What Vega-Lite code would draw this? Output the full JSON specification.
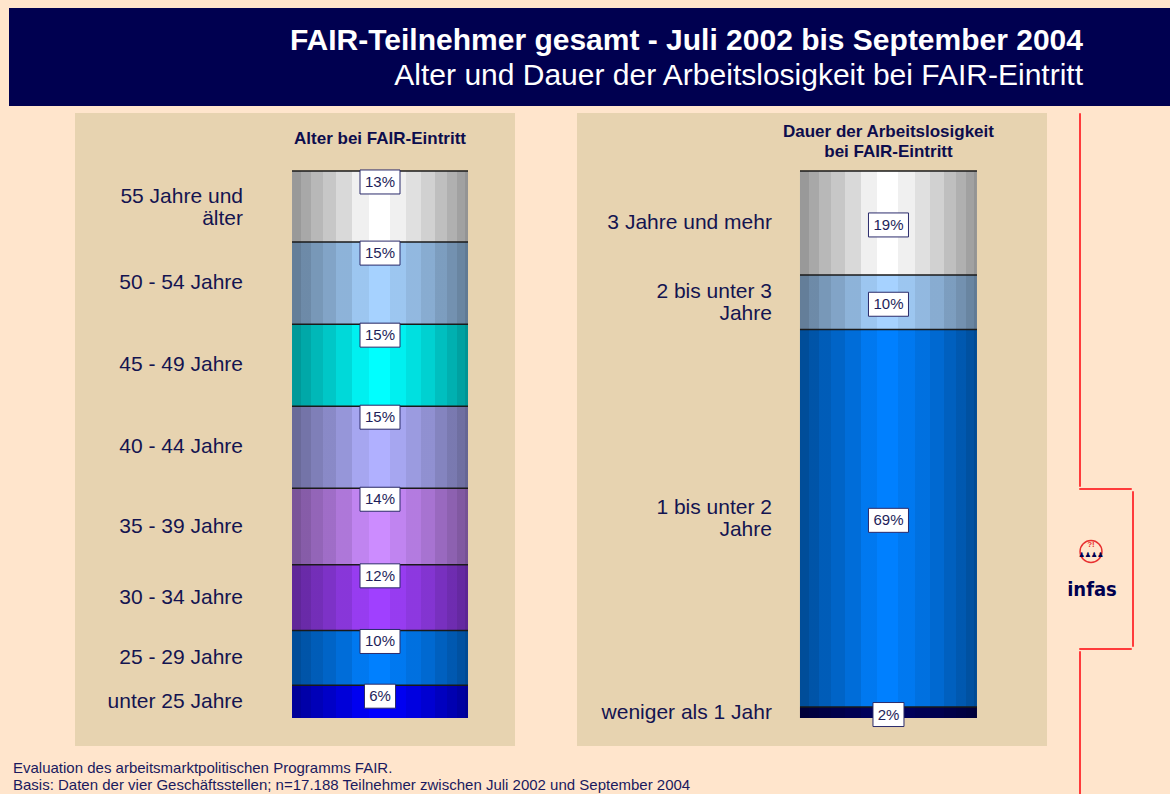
{
  "$schema": "https://vega.github.io/schema/vega-lite/v6.json",
  "background": "#FFE5CC",
  "padding": {"left": 9, "top": 8, "right": 0, "bottom": 0},
  "config": {"font": "Liberation Sans", "view": {"stroke": null}},
  "spacing": 6,
  "vconcat": [
    {
      "width": 1161,
      "height": 98,
      "view": {"fill": "#000050", "stroke": null},
      "data": {"values": [{"title": "FAIR-Teilnehmer gesamt - Juli 2002 bis September 2004", "subtitle": "Alter und Dauer der Arbeitslosigkeit bei FAIR-Eintritt"}]},
      "layer": [
        {"mark": {"type": "text", "align": "right", "baseline": "alphabetic", "dx": 493.5, "dy": -7, "fontSize": 30, "fontWeight": "bold", "color": "#FFFFFF"}, "encoding": {"text": {"field": "title"}}},
        {"mark": {"type": "text", "align": "right", "baseline": "alphabetic", "dx": 493.5, "dy": 28, "fontSize": 30, "fontWeight": "normal", "color": "#FFFFFF"}, "encoding": {"text": {"field": "subtitle"}}}
      ]
    },
    {
      "spacing": 20,
      "hconcat": [
        {
          "title": {
            "text": ["Evaluation des arbeitsmarktpolitischen Programms FAIR.", "Basis: Daten der vier Geschäftsstellen; n=17.188 Teilnehmer zwischen Juli 2002 und September 2004"],
            "orient": "bottom", "anchor": "start", "offset": 15, "dx": 4,
            "fontSize": 15, "fontWeight": "normal", "color": "#1A1A5E", "lineHeight": 17
          },
          "spacing": 62,
          "resolve": {"scale": {"color": "independent", "x": "independent", "y": "independent"}},
          "hconcat": [
            {"width": 4, "height": 633, "data": {"values": [{}]}, "mark": {"type": "point", "size": 0, "opacity": 0}, "encoding": {}},
            {
              "width": 440,
              "height": 633,
              "view": {"fill": "#E7D3B0", "stroke": null},
              "layer": [
                {
                  "data": {"values": [
                    {"panel": "Alter", "rank": 1, "label": "unter 25 Jahre", "share": 0.06},
                    {"panel": "Alter", "rank": 2, "label": "25 - 29 Jahre", "share": 0.10},
                    {"panel": "Alter", "rank": 3, "label": "30 - 34 Jahre", "share": 0.12},
                    {"panel": "Alter", "rank": 4, "label": "35 - 39 Jahre", "share": 0.14},
                    {"panel": "Alter", "rank": 5, "label": "40 - 44 Jahre", "share": 0.15},
                    {"panel": "Alter", "rank": 6, "label": "45 - 49 Jahre", "share": 0.15},
                    {"panel": "Alter", "rank": 7, "label": "50 - 54 Jahre", "share": 0.15},
                    {"panel": "Alter", "rank": 8, "label": "55 Jahre und\nälter", "share": 0.13}
                  ]},
                  "transform": [
                    {"stack": "share", "groupby": ["panel"], "sort": [{"field": "rank", "order": "ascending"}], "as": ["y0", "y1"]},
                    {"calculate": "(datum.y0 + datum.y1) / 2", "as": "ymid"}
                  ],
                  "layer": [
                    {
                      "mark": {"type": "bar"},
                      "encoding": {
                        "x": {"field": "panel", "type": "nominal", "axis": null, "scale": {"paddingInner": 0, "paddingOuter": 0.75, "align": 0.822}},
                        "y": {"field": "y0", "type": "quantitative", "axis": null, "scale": {"domain": [-0.0512, 1.106], "nice": false, "zero": false}},
                        "y2": {"field": "y1"},
                        "color": {"field": "label", "type": "nominal", "legend": null, "scale": {
                          "domain": ["unter 25 Jahre", "25 - 29 Jahre", "30 - 34 Jahre", "35 - 39 Jahre", "40 - 44 Jahre", "45 - 49 Jahre", "50 - 54 Jahre", "55 Jahre und\nälter"],
                          "range": ["#0000FF", "#0080FF", "#A040FF", "#CC8CFF", "#B0B0FF", "#00FFFF", "#A6D2FF", "#FFFFFF"]}}
                      }
                    },
                    {
                      "mark": {"type": "bar", "fill": {"gradient": "linear", "x1": 0, "y1": 0, "x2": 1, "y2": 0, "stops": [
                        {"offset": 0, "color": "rgba(0,0,0,0.40)"}, {"offset": 0.051, "color": "rgba(0,0,0,0.40)"},
                        {"offset": 0.051, "color": "rgba(0,0,0,0.34)"}, {"offset": 0.107, "color": "rgba(0,0,0,0.34)"},
                        {"offset": 0.107, "color": "rgba(0,0,0,0.28)"}, {"offset": 0.177, "color": "rgba(0,0,0,0.28)"},
                        {"offset": 0.177, "color": "rgba(0,0,0,0.22)"}, {"offset": 0.252, "color": "rgba(0,0,0,0.22)"},
                        {"offset": 0.252, "color": "rgba(0,0,0,0.15)"}, {"offset": 0.343, "color": "rgba(0,0,0,0.15)"},
                        {"offset": 0.343, "color": "rgba(0,0,0,0.06)"}, {"offset": 0.437, "color": "rgba(0,0,0,0.06)"},
                        {"offset": 0.437, "color": "rgba(0,0,0,0)"}, {"offset": 0.554, "color": "rgba(0,0,0,0)"},
                        {"offset": 0.554, "color": "rgba(0,0,0,0.06)"}, {"offset": 0.648, "color": "rgba(0,0,0,0.06)"},
                        {"offset": 0.648, "color": "rgba(0,0,0,0.12)"}, {"offset": 0.733, "color": "rgba(0,0,0,0.12)"},
                        {"offset": 0.733, "color": "rgba(0,0,0,0.18)"}, {"offset": 0.814, "color": "rgba(0,0,0,0.18)"},
                        {"offset": 0.814, "color": "rgba(0,0,0,0.25)"}, {"offset": 0.883, "color": "rgba(0,0,0,0.25)"},
                        {"offset": 0.883, "color": "rgba(0,0,0,0.31)"}, {"offset": 0.94, "color": "rgba(0,0,0,0.31)"},
                        {"offset": 0.94, "color": "rgba(0,0,0,0.37)"}, {"offset": 0.981, "color": "rgba(0,0,0,0.37)"},
                        {"offset": 0.981, "color": "rgba(0,0,0,0.42)"}, {"offset": 1, "color": "rgba(0,0,0,0.42)"}
                      ]}},
                      "encoding": {
                        "x": {"field": "panel", "type": "nominal", "axis": null},
                        "y": {"field": "y0", "type": "quantitative", "axis": null},
                        "y2": {"field": "y1"}
                      }
                    },
                    {
                      "mark": {"type": "tick", "color": "#1A1A1A", "thickness": 1.5, "size": 176, "opacity": 1},
                      "encoding": {
                        "x": {"field": "panel", "type": "nominal", "axis": null},
                        "y": {"field": "y1", "type": "quantitative", "axis": null}
                      }
                    },
                    {
                      "mark": {"type": "point", "size": 1600, "filled": true, "fill": "#FFFFFF", "stroke": "#2B2B6B", "strokeWidth": 1, "opacity": 1, "yOffset": 11},
                      "encoding": {
                        "x": {"field": "panel", "type": "nominal", "axis": null},
                        "y": {"field": "y1", "type": "quantitative", "axis": null},
                        "shape": {"condition": {"test": "datum.share < 0.095", "value": "M-0.775,-0.6H0.775V0.6H-0.775Z"}, "value": "M-1,-0.6H1V0.6H-1Z"}
                      }
                    },
                    {
                      "mark": {"type": "text", "baseline": "middle", "dy": 11, "fontSize": 15, "color": "#1E1E5A"},
                      "encoding": {
                        "x": {"field": "panel", "type": "nominal", "axis": null},
                        "y": {"field": "y1", "type": "quantitative", "axis": null},
                        "text": {"field": "share", "type": "quantitative", "format": ".0%"}
                      }
                    },
                    {
                      "transform": [{"filter": "indexof(datum.label, '\\n') < 0"}],
                      "mark": {"type": "text", "align": "right", "baseline": "middle", "dx": -49, "fontSize": 21, "color": "#141450"},
                      "encoding": {
                        "x": {"field": "panel", "type": "nominal", "axis": null, "bandPosition": 0},
                        "y": {"field": "ymid", "type": "quantitative", "axis": null},
                        "text": {"field": "label"}
                      }
                    },
                    {
                      "transform": [{"filter": "indexof(datum.label, '\\n') >= 0"}],
                      "mark": {"type": "text", "align": "right", "baseline": "middle", "dx": -49, "dy": -10, "fontSize": 21, "lineHeight": 22, "lineBreak": "\n", "color": "#141450"},
                      "encoding": {
                        "x": {"field": "panel", "type": "nominal", "axis": null, "bandPosition": 0},
                        "y": {"field": "ymid", "type": "quantitative", "axis": null},
                        "text": {"field": "label"}
                      }
                    }
                  ]
                },
                {
                  "data": {"values": [{"panel": "Alter", "title": "Alter bei FAIR-Eintritt"}]},
                  "mark": {"type": "text", "baseline": "middle", "dy": -32, "fontSize": 17, "fontWeight": "bold", "color": "#0D0D4D"},
                  "encoding": {
                    "x": {"field": "panel", "type": "nominal", "axis": null},
                    "y": {"datum": 1, "type": "quantitative", "axis": null},
                    "text": {"field": "title"}
                  }
                }
              ]
            },
            {
              "width": 470,
              "height": 633,
              "view": {"fill": "#E7D3B0", "stroke": null},
              "layer": [
                {
                  "data": {"values": [
                    {"panel": "Dauer", "rank": 1, "label": "weniger als 1 Jahr", "share": 0.02},
                    {"panel": "Dauer", "rank": 2, "label": "1 bis unter 2\nJahre", "share": 0.69},
                    {"panel": "Dauer", "rank": 3, "label": "2 bis unter 3\nJahre", "share": 0.10},
                    {"panel": "Dauer", "rank": 4, "label": "3 Jahre und mehr", "share": 0.19}
                  ]},
                  "transform": [
                    {"stack": "share", "groupby": ["panel"], "sort": [{"field": "rank", "order": "ascending"}], "as": ["y0", "y1"]},
                    {"calculate": "(datum.y0 + datum.y1) / 2", "as": "ymid"}
                  ],
                  "layer": [
                    {
                      "mark": {"type": "bar"},
                      "encoding": {
                        "x": {"field": "panel", "type": "nominal", "axis": null, "scale": {"paddingInner": 0, "paddingOuter": 0.8277, "align": 0.761}},
                        "y": {"field": "y0", "type": "quantitative", "axis": null, "scale": {"domain": [-0.0512, 1.106], "nice": false, "zero": false}},
                        "y2": {"field": "y1"},
                        "color": {"field": "label", "type": "nominal", "legend": null, "scale": {
                          "domain": ["weniger als 1 Jahr", "1 bis unter 2\nJahre", "2 bis unter 3\nJahre", "3 Jahre und mehr"],
                          "range": ["#000060", "#0080FF", "#A6D2FF", "#FFFFFF"]}}
                      }
                    },
                    {
                      "mark": {"type": "bar", "fill": {"gradient": "linear", "x1": 0, "y1": 0, "x2": 1, "y2": 0, "stops": [
                        {"offset": 0, "color": "rgba(0,0,0,0.40)"}, {"offset": 0.051, "color": "rgba(0,0,0,0.40)"},
                        {"offset": 0.051, "color": "rgba(0,0,0,0.34)"}, {"offset": 0.107, "color": "rgba(0,0,0,0.34)"},
                        {"offset": 0.107, "color": "rgba(0,0,0,0.28)"}, {"offset": 0.177, "color": "rgba(0,0,0,0.28)"},
                        {"offset": 0.177, "color": "rgba(0,0,0,0.22)"}, {"offset": 0.252, "color": "rgba(0,0,0,0.22)"},
                        {"offset": 0.252, "color": "rgba(0,0,0,0.15)"}, {"offset": 0.343, "color": "rgba(0,0,0,0.15)"},
                        {"offset": 0.343, "color": "rgba(0,0,0,0.06)"}, {"offset": 0.437, "color": "rgba(0,0,0,0.06)"},
                        {"offset": 0.437, "color": "rgba(0,0,0,0)"}, {"offset": 0.554, "color": "rgba(0,0,0,0)"},
                        {"offset": 0.554, "color": "rgba(0,0,0,0.06)"}, {"offset": 0.648, "color": "rgba(0,0,0,0.06)"},
                        {"offset": 0.648, "color": "rgba(0,0,0,0.12)"}, {"offset": 0.733, "color": "rgba(0,0,0,0.12)"},
                        {"offset": 0.733, "color": "rgba(0,0,0,0.18)"}, {"offset": 0.814, "color": "rgba(0,0,0,0.18)"},
                        {"offset": 0.814, "color": "rgba(0,0,0,0.25)"}, {"offset": 0.883, "color": "rgba(0,0,0,0.25)"},
                        {"offset": 0.883, "color": "rgba(0,0,0,0.31)"}, {"offset": 0.94, "color": "rgba(0,0,0,0.31)"},
                        {"offset": 0.94, "color": "rgba(0,0,0,0.37)"}, {"offset": 0.981, "color": "rgba(0,0,0,0.37)"},
                        {"offset": 0.981, "color": "rgba(0,0,0,0.42)"}, {"offset": 1, "color": "rgba(0,0,0,0.42)"}
                      ]}},
                      "encoding": {
                        "x": {"field": "panel", "type": "nominal", "axis": null},
                        "y": {"field": "y0", "type": "quantitative", "axis": null},
                        "y2": {"field": "y1"}
                      }
                    },
                    {
                      "mark": {"type": "tick", "color": "#1A1A1A", "thickness": 1.5, "size": 177, "opacity": 1},
                      "encoding": {
                        "x": {"field": "panel", "type": "nominal", "axis": null},
                        "y": {"field": "y1", "type": "quantitative", "axis": null}
                      }
                    },
                    {
                      "mark": {"type": "point", "size": 1600, "filled": true, "fill": "#FFFFFF", "stroke": "#2B2B6B", "strokeWidth": 1, "opacity": 1, "yOffset": 2},
                      "encoding": {
                        "x": {"field": "panel", "type": "nominal", "axis": null},
                        "y": {"field": "ymid", "type": "quantitative", "axis": null},
                        "shape": {"condition": {"test": "datum.share < 0.095", "value": "M-0.775,-0.6H0.775V0.6H-0.775Z"}, "value": "M-1,-0.6H1V0.6H-1Z"}
                      }
                    },
                    {
                      "mark": {"type": "text", "baseline": "middle", "dy": 2, "fontSize": 15, "color": "#1E1E5A"},
                      "encoding": {
                        "x": {"field": "panel", "type": "nominal", "axis": null},
                        "y": {"field": "ymid", "type": "quantitative", "axis": null},
                        "text": {"field": "share", "type": "quantitative", "format": ".0%"}
                      }
                    },
                    {
                      "transform": [{"filter": "indexof(datum.label, '\\n') < 0"}],
                      "mark": {"type": "text", "align": "right", "baseline": "middle", "dx": -28, "fontSize": 21, "color": "#141450"},
                      "encoding": {
                        "x": {"field": "panel", "type": "nominal", "axis": null, "bandPosition": 0},
                        "y": {"field": "ymid", "type": "quantitative", "axis": null},
                        "text": {"field": "label"}
                      }
                    },
                    {
                      "transform": [{"filter": "indexof(datum.label, '\\n') >= 0"}],
                      "mark": {"type": "text", "align": "right", "baseline": "middle", "dx": -28, "dy": -10, "fontSize": 21, "lineHeight": 22, "lineBreak": "\n", "color": "#141450"},
                      "encoding": {
                        "x": {"field": "panel", "type": "nominal", "axis": null, "bandPosition": 0},
                        "y": {"field": "ymid", "type": "quantitative", "axis": null},
                        "text": {"field": "label"}
                      }
                    }
                  ]
                },
                {
                  "data": {"values": [{"panel": "Dauer", "title": "Dauer der Arbeitslosigkeit\nbei FAIR-Eintritt"}]},
                  "mark": {"type": "text", "baseline": "middle", "dy": -39, "fontSize": 17, "fontWeight": "bold", "lineHeight": 20, "lineBreak": "\n", "color": "#0D0D4D"},
                  "encoding": {
                    "x": {"field": "panel", "type": "nominal", "axis": null},
                    "y": {"datum": 1, "type": "quantitative", "axis": null},
                    "text": {"field": "title"}
                  }
                }
              ]
            }
          ]
        },
        {
          "spacing": 0,
          "vconcat": [
            {"width": 1, "height": 373, "view": {"stroke": "#FF3B3B", "strokeWidth": 1, "fill": null}, "data": {"values": [{}]}, "mark": {"type": "point", "size": 0, "opacity": 0}, "encoding": {}},
            {"width": 52, "height": 1, "view": {"stroke": "#FF3B3B", "strokeWidth": 1, "fill": null}, "data": {"values": [{}]}, "mark": {"type": "point", "size": 0, "opacity": 0}, "encoding": {}},
            {
              "spacing": 0,
              "hconcat": [
                {
                  "width": 52,
                  "height": 155,
                  "view": {"stroke": null},
                  "data": {"values": [{"name": "infas", "sign": "?!", "people": "♟♟♟♟"}]},
                  "layer": [
                    {"mark": {"type": "point", "shape": "circle", "size": 480, "filled": false, "stroke": "#E83030", "strokeWidth": 1.5, "opacity": 1, "xOffset": -14, "yOffset": -17}, "encoding": {}},
                    {"mark": {"type": "text", "baseline": "middle", "dx": -14, "dy": -24, "fontSize": 8, "fontWeight": "bold", "color": "#E83030"}, "encoding": {"text": {"field": "sign"}}},
                    {"mark": {"type": "text", "font": "DejaVu Sans", "baseline": "middle", "dx": -14, "dy": -14, "fontSize": 7, "color": "#000050"}, "encoding": {"text": {"field": "people"}}},
                    {"mark": {"type": "text", "font": "'Liberation Sans Narrow', 'DejaVu Sans Condensed', 'Liberation Sans', sans-serif", "baseline": "middle", "dx": -13, "dy": 21, "fontSize": 20, "fontWeight": "bold", "color": "#000050"}, "encoding": {"text": {"field": "name"}}}
                  ]
                },
                {"width": 1, "height": 155, "view": {"stroke": "#FF3B3B", "strokeWidth": 1, "fill": null}, "data": {"values": [{}]}, "mark": {"type": "point", "size": 0, "opacity": 0}, "encoding": {}}
              ]
            },
            {"width": 52, "height": 1, "view": {"stroke": "#FF3B3B", "strokeWidth": 1, "fill": null}, "data": {"values": [{}]}, "mark": {"type": "point", "size": 0, "opacity": 0}, "encoding": {}},
            {"width": 1, "height": 152, "view": {"stroke": "#FF3B3B", "strokeWidth": 1, "fill": null}, "data": {"values": [{}]}, "mark": {"type": "point", "size": 0, "opacity": 0}, "encoding": {}}
          ]
        }
      ]
    }
  ]
}
